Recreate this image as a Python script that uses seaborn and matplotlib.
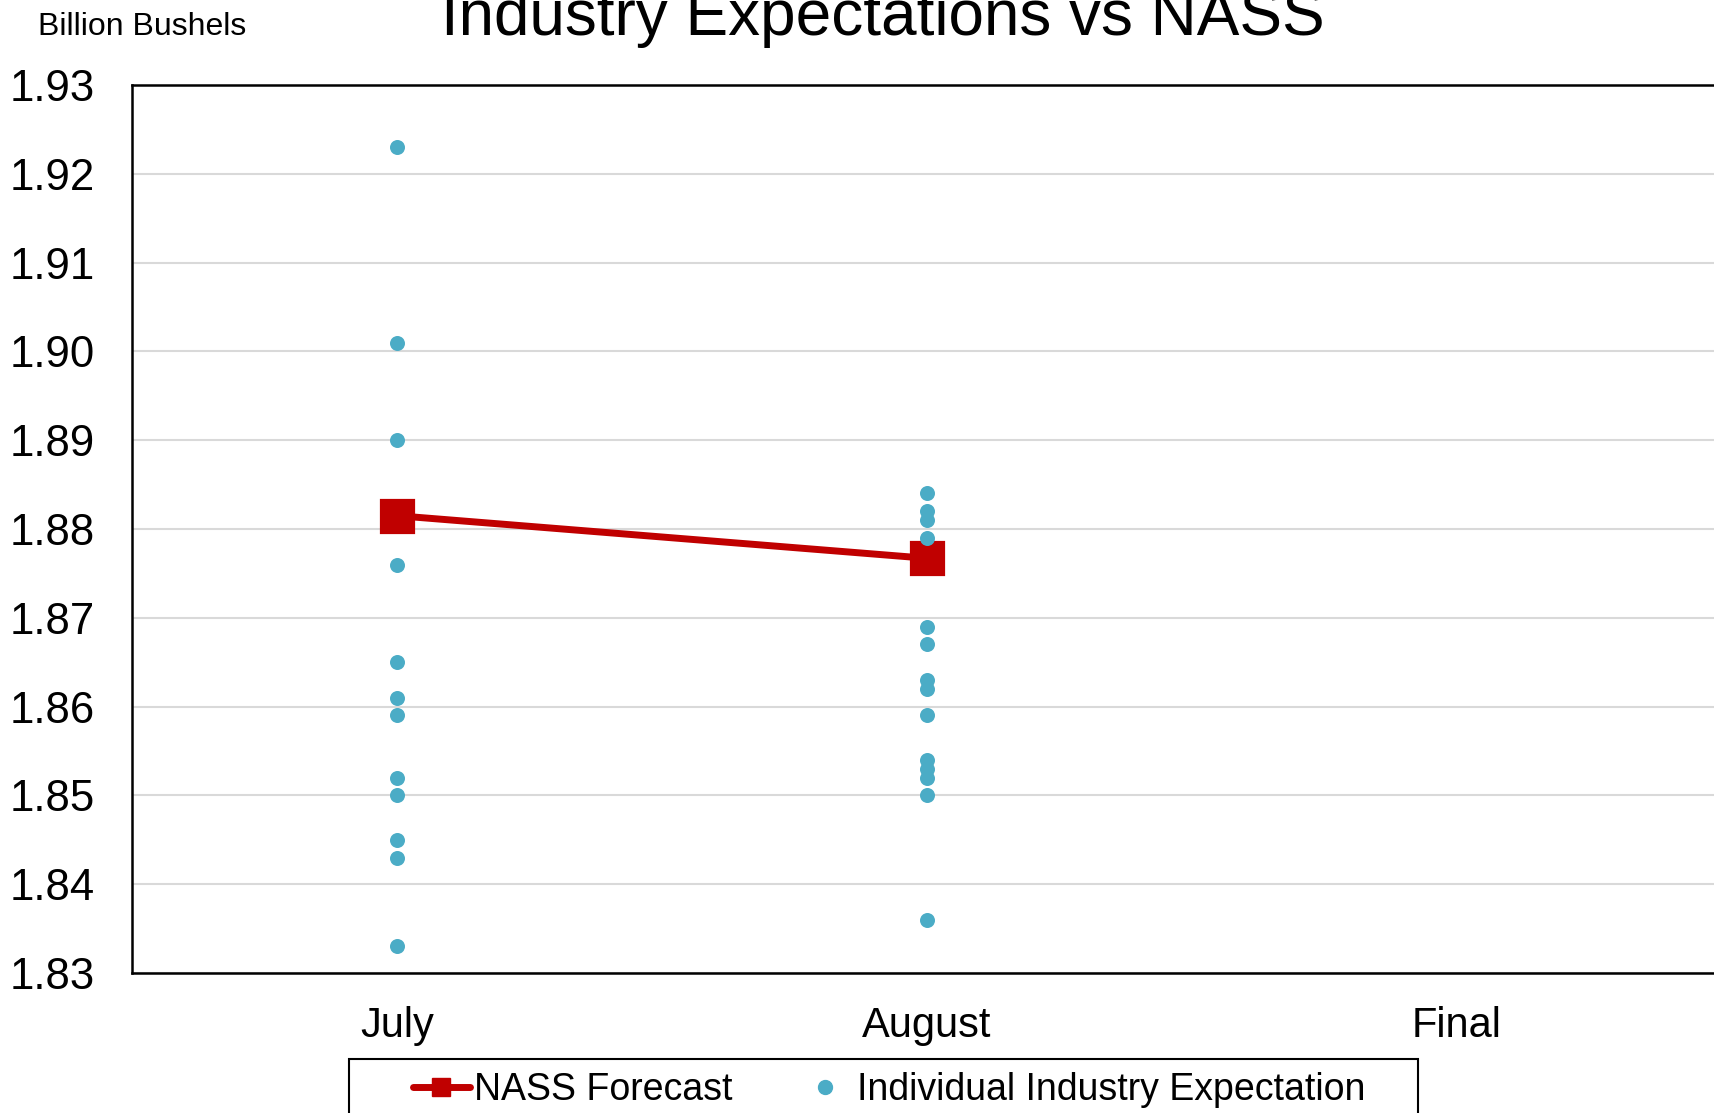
import pandas as pd
import matplotlib
matplotlib.use("Agg")
import matplotlib.pyplot as plt
from matplotlib.lines import Line2D
from matplotlib.patches import Rectangle
import seaborn as sns

# dados
months = ["July", "August", "Final"]
july_expect = [1.923, 1.901, 1.890, 1.876, 1.865, 1.861, 1.859, 1.852, 1.850, 1.845, 1.843, 1.833]
august_expect = [1.884, 1.882, 1.881, 1.879, 1.869, 1.867, 1.863, 1.862, 1.859, 1.854, 1.853, 1.852, 1.850, 1.836]
nass_months = ["July", "August"]
nass_forecast = [1.8815, 1.8767]
y_ticks = [1.83, 1.84, 1.85, 1.86, 1.87, 1.88, 1.89, 1.90, 1.91, 1.92, 1.93]

df_expect = pd.DataFrame({
    "Month": ["July"] * len(july_expect) + ["August"] * len(august_expect),
    "Bushels": july_expect + august_expect,
})
df_nass = pd.DataFrame({"Month": nass_months, "Bushels": nass_forecast})

sns.set_theme(style="white")
plt.rcParams["font.family"] = ["Liberation Sans", "DejaVu Sans"]
plt.rcParams["text.color"] = "black"

blue = "#4BACC6"
red = "#C00000"

W, H = 1715, 1113
fig = plt.figure(figsize=(W / 100, H / 100), dpi=100)
ax = fig.add_axes([132 / W, 1 - 973 / H, 1590 / W, (973 - 85) / H])

sns.pointplot(data=df_nass, x="Month", y="Bushels", order=months, color=red,
              markers="s", markersize=22, linewidth=5, errorbar=None, ax=ax, zorder=3)
sns.stripplot(data=df_expect, x="Month", y="Bushels", order=months, jitter=False,
              color=blue, size=10.8, linewidth=0, ax=ax, zorder=4)

ax.set_xlim(-0.5, 2.5)
ax.set_ylim(1.83, 1.93)
ax.set_yticks(y_ticks)
ax.set_yticklabels([f"{v:.2f}" for v in y_ticks])
ax.set_xlabel("")
ax.set_ylabel("")
ax.yaxis.grid(True, color="#D9D9D9", linewidth=1.5)
ax.xaxis.grid(False)
ax.set_axisbelow(True)
for s in ax.spines.values():
    s.set_color("black")
    s.set_linewidth(1.8)
ax.tick_params(axis="y", length=0, pad=26.5, labelsize=31.5, labelcolor="black")
ax.tick_params(axis="x", length=0, pad=24, labelsize=30, labelcolor="black")

fig.text(38 / W, 1 - 35 / H, "Billion Bushels", fontsize=23, ha="left", va="baseline")
fig.text(883 / W, 1 - 35 / H, "Industry Expectations vs NASS", fontsize=46,
         ha="center", va="baseline")

# legenda
handles = [
    Line2D([], [], color=red, linewidth=5, marker="s", markersize=13),
    Line2D([], [], color=blue, linestyle="none", marker="o", markersize=10),
]
fig.legend(handles, ["NASS Forecast", "Individual Industry Expectation"],
           loc="center left", bbox_to_anchor=(413 / W, 1 - 1090 / H), ncol=2,
           frameon=False, fontsize=27, handlelength=1.52, handletextpad=0.1,
           columnspacing=1.7, borderpad=0, borderaxespad=0)
fig.add_artist(Rectangle((349 / W, -0.05), (1418 - 349) / W, (1 - 1059 / H) + 0.05,
                         transform=fig.transFigure, fill=False, edgecolor="black",
                         linewidth=1.5))

fig.savefig("out.png", dpi=100)
